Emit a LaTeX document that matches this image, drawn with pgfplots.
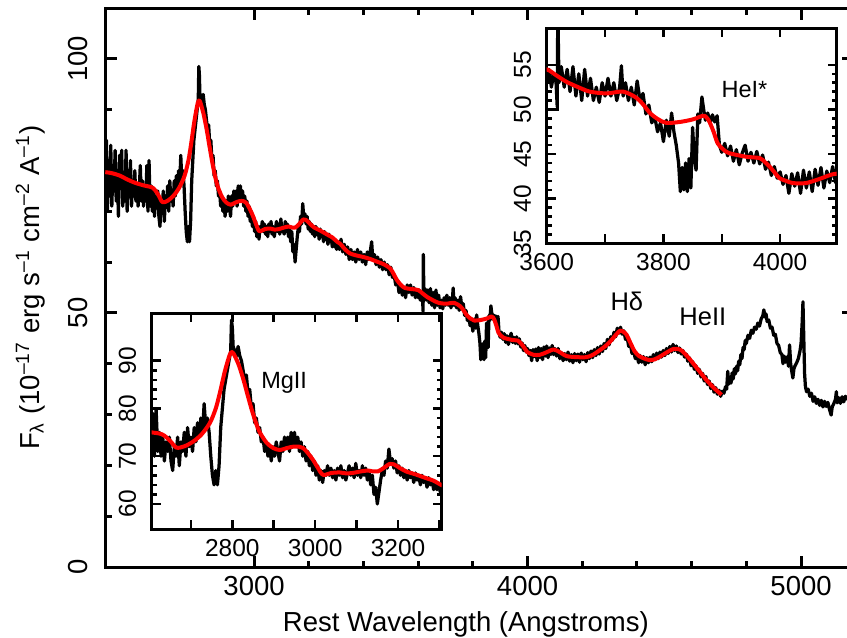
\documentclass[border=0pt]{standalone}
\usepackage{fontspec}
\setmainfont{Liberation Sans}
\usepackage{pgfplots}
\pgfplotsset{compat=1.18}
\usepackage{pgfplotstable}

\pgfplotstableread[row sep=\\]{
x y\\
2450 75\\ 2456 76\\ 2460 84\\ 2464 70\\ 2468 80\\ 2472 73\\ 2476 83\\ 2480 71\\ 2484 79\\ 2488 74\\ 2492 82\\ 2496 72\\ 2500 78\\
2504 69\\ 2508 81\\ 2512 75\\ 2516 82\\ 2520 71\\ 2524 77\\ 2528 72\\ 2532 82\\ 2536 70\\ 2540 76\\ 2544 74\\ 2548 80\\ 2552 71\\
2556 76\\ 2560 73\\ 2564 78\\ 2568 72\\ 2572 75\\ 2576 71\\ 2580 74\\ 2584 79\\ 2588 72\\ 2592 76\\ 2596 71\\ 2600 74\\
2604 72\\ 2608 79\\ 2612 70\\ 2616 80\\ 2620 71\\ 2624 75\\ 2628 70\\ 2632 74\\ 2636 69\\ 2640 73\\ 2644 71\\ 2648 74\\ 2652 69\\
2656 67\\ 2660 72\\ 2664 70\\ 2668 74\\ 2672 68\\ 2676 73\\ 2680 71\\ 2684 75\\ 2688 70\\ 2692 76\\ 2696 72\\ 2700 74\\ 2704 71\\
2708 76\\ 2712 73\\ 2716 77\\ 2720 74\\ 2724 78\\ 2728 75\\ 2732 81\\ 2736 76\\ 2740 78\\ 2744 75\\ 2748 70\\ 2752 66\\ 2756 64\\
2760 67\\ 2764 64\\ 2768 68\\ 2772 76\\ 2776 80\\ 2780 84\\ 2784 86\\ 2788 88\\ 2792 90\\ 2796 92\\ 2798 98.5\\ 2800 97\\ 2802 93\\
2806 92\\ 2810 91\\ 2814 93\\ 2818 91\\ 2822 90\\ 2826 88\\ 2830 86\\ 2834 87\\ 2838 83\\ 2842 84\\ 2846 80\\ 2850 81\\ 2854 77\\
2858 78\\ 2862 75\\ 2866 76\\ 2870 73\\ 2874 74\\ 2878 71\\ 2882 73\\ 2886 70\\ 2890 72\\ 2894 69\\ 2898 72\\ 2902 70\\ 2906 73\\
2910 71\\ 2914 69\\ 2918 73\\ 2922 71\\ 2926 74\\ 2930 72\\ 2934 74\\ 2938 71\\ 2942 75\\ 2946 72\\ 2950 75\\ 2954 72\\ 2958 74\\
2962 71\\ 2966 73\\ 2970 70\\ 2974 72\\ 2978 69\\ 2982 71\\ 2986 68\\ 2990 70\\ 2994 67\\ 2998 69\\ 3002 66\\ 3006 68\\ 3010 65\\
3014 67\\ 3018 64.5\\ 3022 67\\ 3026 66\\ 3030 68\\ 3034 66\\ 3038 67.5\\ 3042 65.5\\ 3046 67\\ 3050 65\\ 3054 67.5\\ 3058 66\\
3062 68\\ 3066 65.5\\ 3070 67\\ 3074 65\\ 3078 66.5\\ 3082 68\\ 3086 66\\ 3090 67.5\\ 3094 65.5\\ 3098 68.5\\ 3102 66\\ 3106 67\\
3110 65.5\\ 3114 68\\ 3118 66\\ 3122 67.5\\ 3126 65\\ 3130 67\\ 3134 64\\ 3138 66\\ 3142 62\\ 3146 63.5\\ 3150 60\\ 3154 62.5\\
3158 65\\ 3162 67\\ 3166 66\\ 3170 69\\ 3174 67.5\\ 3178 71.5\\ 3182 68.5\\ 3186 69.5\\ 3190 67.5\\ 3194 69\\ 3198 66.5\\ 3202 68\\
3206 66\\ 3210 67.5\\ 3214 65.5\\ 3218 67\\ 3222 65\\ 3226 67\\ 3230 65.5\\ 3234 66.5\\ 3238 64.5\\ 3242 66.5\\ 3246 65\\ 3250 66\\
3254 64\\ 3258 66\\ 3262 64.5\\ 3266 65.5\\ 3270 63.5\\ 3274 65.5\\ 3278 64\\ 3282 65\\ 3286 63\\ 3290 64.5\\ 3294 63\\ 3298 64\\
3302 62.5\\ 3306 63.5\\ 3312 62.5\\ 3318 64.5\\ 3324 62\\ 3330 63.5\\ 3336 61.5\\ 3342 63\\ 3348 60.5\\ 3354 62.5\\ 3360 60.5\\
3366 62\\ 3372 60\\ 3378 62.5\\ 3384 60.5\\ 3390 62\\ 3396 60\\ 3402 61.5\\ 3408 59.5\\ 3414 62\\ 3420 60.5\\ 3426 62.5\\ 3430 64\\
3434 60.5\\ 3440 61.5\\ 3446 59.5\\ 3452 61\\ 3458 59\\ 3464 60.5\\ 3470 58.5\\ 3476 60\\ 3482 58.5\\ 3488 59.5\\ 3494 57.5\\
3500 59\\ 3506 57\\ 3512 57.5\\ 3518 55.5\\ 3524 56.5\\ 3530 54\\ 3536 55.5\\ 3542 53.5\\ 3548 55\\ 3554 53\\ 3560 55.5\\ 3566 54\\
3572 55.5\\ 3578 53.5\\ 3584 55\\ 3590 53\\ 3596 54.5\\ 3600 53\\ 3604 54.5\\ 3608 52.5\\ 3612 54\\ 3616 53\\ 3618 50.3\\ 3619 61.5\\
3621 53\\ 3625 54.8\\ 3630 52.5\\ 3635 54.5\\ 3640 52\\ 3645 54.8\\ 3650 51.5\\ 3655 54\\ 3660 51\\ 3665 54.5\\ 3670 51.5\\
3675 53.5\\ 3680 51\\ 3685 52.5\\ 3690 50.8\\ 3695 53\\ 3700 51.5\\ 3705 53.5\\ 3710 51.5\\ 3715 53\\ 3720 51\\ 3725 52.5\\
3728 54.9\\ 3731 51.5\\ 3735 53\\ 3740 51\\ 3745 52.5\\ 3750 50.5\\ 3755 53.2\\ 3760 51\\ 3765 51.8\\ 3770 49.5\\ 3775 50.5\\
3780 48.5\\ 3785 49.2\\ 3790 47.5\\ 3795 48.5\\ 3800 46.4\\ 3805 48.8\\ 3810 47\\ 3814 49.6\\ 3818 47.5\\ 3822 46\\ 3826 44\\
3829 40.8\\ 3832 43.5\\ 3835 41\\ 3838 44\\ 3841 40.8\\ 3844 44.5\\ 3847 41.2\\ 3850 48\\ 3853 44.5\\ 3856 43.2\\ 3859 49.5\\
3862 48.5\\ 3866 51.4\\ 3869 50\\ 3872 48.8\\ 3876 49.6\\ 3880 48.5\\ 3884 49.4\\ 3888 48.6\\ 3892 49.3\\ 3896 46\\ 3900 45.2\\
3905 46.2\\ 3910 44.8\\ 3915 45.9\\ 3920 44.2\\ 3925 45.5\\ 3930 43.8\\ 3935 45.1\\ 3940 46\\ 3945 44.2\\ 3950 45.2\\ 3955 44\\
3960 45.3\\ 3965 43.9\\ 3970 44.9\\ 3975 43.3\\ 3980 44.1\\ 3985 42.6\\ 3990 43.6\\ 3995 42.3\\ 4000 43\\ 4005 41.6\\ 4010 42.6\\
4015 40.6\\ 4020 42.8\\ 4025 41.4\\ 4030 42.9\\ 4035 40.6\\ 4040 43.2\\ 4045 41.2\\ 4050 43\\ 4055 40.8\\ 4060 43.3\\ 4065 41.5\\
4070 43.5\\ 4075 41.2\\ 4080 43.1\\ 4085 41.8\\ 4090 43.6\\ 4095 41.8\\ 4100 43\\ 4106 41.5\\ 4112 43\\ 4118 41\\ 4124 42.2\\
4130 40.6\\ 4136 42\\ 4142 40.8\\ 4148 42.3\\ 4154 40.5\\ 4160 41.8\\ 4166 40.2\\ 4172 42\\ 4178 40.6\\ 4184 41.9\\ 4190 40.3\\
4196 42.1\\ 4202 40.8\\ 4208 41.8\\ 4214 40.4\\ 4220 42.2\\ 4226 41\\ 4232 42.5\\ 4238 41.2\\ 4244 42.8\\ 4250 41.6\\ 4256 43.2\\
4262 41.9\\ 4268 43.5\\ 4274 42.4\\ 4280 44\\ 4286 43\\ 4292 44.8\\ 4298 43.7\\ 4304 45.3\\ 4310 44.6\\ 4316 46.2\\ 4322 45.3\\
4328 47\\ 4334 46\\ 4340 47.2\\ 4346 45.8\\ 4352 46.5\\ 4358 44.8\\ 4364 45.2\\ 4370 43.4\\ 4376 43.8\\ 4382 42\\ 4388 42.5\\
4394 41\\ 4400 41.8\\ 4406 40.2\\ 4412 41.6\\ 4418 40.3\\ 4424 41.4\\ 4430 39.8\\ 4436 41.2\\ 4442 40.2\\ 4448 41.3\\ 4454 40.4\\
4460 41.8\\ 4466 40.8\\ 4472 42.1\\ 4478 41\\ 4484 42.3\\ 4490 41.3\\ 4496 42.6\\ 4502 41.6\\ 4508 43\\ 4514 42\\ 4520 43.4\\
4526 42.3\\ 4532 43.8\\ 4538 42.6\\ 4544 43.5\\ 4550 42.2\\ 4556 43.1\\ 4562 41.9\\ 4568 42.6\\ 4574 41.3\\ 4580 41.9\\ 4586 40.5\\
4592 41.2\\ 4598 39.6\\ 4604 40.4\\ 4610 38.9\\ 4616 39.6\\ 4622 38.1\\ 4628 38.9\\ 4634 37.4\\ 4640 38.1\\ 4646 36.6\\ 4652 37.5\\
4658 35.9\\ 4664 36.6\\ 4670 35.1\\ 4676 35.9\\ 4682 34.4\\ 4688 35.3\\ 4694 34\\ 4700 34.8\\ 4706 33.6\\ 4712 34.6\\ 4718 34.2\\
4724 35.5\\ 4728 35\\ 4732 38.5\\ 4736 36\\ 4740 37.2\\ 4744 36.2\\ 4748 38.2\\ 4752 37\\ 4756 39\\ 4760 38\\ 4764 39.5\\ 4768 38.6\\
4772 40.5\\ 4776 39.8\\ 4780 41.8\\ 4784 41\\ 4788 43.2\\ 4792 42.8\\ 4796 44.6\\ 4800 44\\ 4806 45.6\\ 4812 45\\ 4818 46.6\\
4824 46\\ 4830 47.2\\ 4836 46.8\\ 4842 48\\ 4848 47.4\\ 4854 48.8\\ 4860 49.4\\ 4864 50.6\\ 4868 49.2\\ 4872 49.8\\ 4876 48.3\\
4882 48.6\\ 4888 47\\ 4894 47.2\\ 4900 45.6\\ 4906 45.8\\ 4912 44\\ 4918 43.6\\ 4924 42.2\\ 4930 41.8\\ 4934 40\\ 4938 41.5\\
4944 40.3\\ 4950 41.4\\ 4954 39.5\\ 4958 43.7\\ 4962 40\\ 4966 38.5\\ 4970 37.2\\ 4974 39\\ 4978 39.6\\ 4984 40.2\\ 4990 41\\
4996 42.5\\ 5000 44\\ 5004 48\\ 5007 52.2\\ 5010 45\\ 5013 38\\ 5016 35.5\\ 5020 34.5\\ 5026 35\\ 5032 33.6\\ 5038 34.2\\ 5044 32.6\\
5050 33.5\\ 5056 32.2\\ 5062 33\\ 5068 31.8\\ 5074 32.8\\ 5080 31.5\\ 5086 32.6\\ 5092 31.6\\ 5098 32.4\\ 5104 31\\ 5110 29.9\\
5114 31.5\\ 5120 32.2\\ 5126 33\\ 5129 34.5\\ 5132 32.3\\ 5138 33.3\\ 5144 32.2\\ 5150 33.5\\ 5156 32.5\\ 5162 33.6\\ 5168 33\\
5175 33.2\\ 5182 32.8\\ 5190 33.4\\ 5196 33\\
}\spec

\pgfplotstableread[row sep=\\]{
x y\\
2456 77.7\\ 2480 77.5\\ 2510 77.0\\ 2535 76.3\\ 2565 75.6\\ 2596 75.1\\ 2630 74.6\\ 2650 73.2\\ 2665 71.8\\ 2685 72.1\\
2706 73.1\\ 2726 74.6\\ 2746 77\\ 2760 80\\ 2770 83.3\\ 2782 87.8\\ 2794 91.3\\ 2800 91.8\\ 2806 91\\ 2816 89\\ 2827 86\\
2837 82.8\\ 2847 79.7\\ 2857 77\\ 2867 74.9\\ 2883 72.8\\ 2899 71.7\\ 2915 71.3\\ 2931 71.7\\ 2947 72\\ 2961 72\\ 2971 71.7\\
2983 70.6\\ 2995 69.2\\ 3007 67.5\\ 3019 66.1\\ 3040 66.5\\ 3059 66.6\\ 3075 66.4\\ 3091 66.5\\ 3109 66.8\\ 3127 67\\ 3140 66.8\\
3151 66.8\\ 3165 67.5\\ 3180 68.4\\ 3190 68.3\\ 3205 67.5\\ 3220 66.8\\ 3242 66.2\\ 3268 65.4\\ 3285 64.9\\ 3304 64\\ 3315 63.6\\
3333 62.5\\ 3351 61.7\\ 3375 61.3\\ 3400 61\\ 3425 60.6\\ 3449 60.1\\ 3473 59.6\\ 3497 58.8\\ 3510 57.7\\ 3522 56.5\\ 3537 55.5\\
3552 54.9\\ 3575 54.7\\ 3600 54.5\\ 3617 53.8\\ 3634 53.1\\ 3654 52.5\\ 3674 52.0\\ 3703 51.8\\ 3731 52.0\\ 3754 51.3\\ 3766 50.5\\
3777 49.6\\ 3791 48.9\\ 3805 48.5\\ 3828 48.6\\ 3851 48.9\\ 3868 49.3\\ 3874 49.1\\ 3879 48.6\\ 3886 47.5\\ 3893 46.2\\ 3903 45.5\\
3913 45.1\\ 3942 44.7\\ 3965 44.55\\ 3974 44.1\\ 3982 43.6\\ 3991 42.9\\ 3999 42.3\\ 4010 42.0\\ 4022 41.75\\ 4044 41.75\\
4067 42.2\\ 4096 42.8\\ 4120 42.2\\ 4143 41.5\\ 4179 41.3\\ 4216 41.3\\ 4240 41.8\\ 4265 42.7\\ 4283 43.4\\ 4301 44.3\\ 4320 45.5\\
4338 46.5\\ 4350 46.3\\ 4362 45.7\\ 4377 44\\ 4392 42.4\\ 4408 41.5\\ 4423 41.1\\ 4447 40.7\\ 4466 40.9\\ 4484 41.4\\ 4508 42.2\\
4533 42.9\\ 4548 42.9\\ 4563 42.6\\ 4585 41.4\\ 4605 40.1\\ 4630 38.4\\ 4654 36.8\\ 4680 35.3\\ 4709 33.9\\
}\fit

\pgfplotsset{
  spec/.style={black, line width=1.3pt, line join=round, no markers},
  fitline/.style={red, line width=1.6pt, line join=round, no markers, smooth},
  inset/.style={
    scale only axis, anchor=south west, width=116pt,
    axis background/.style={fill=white},
    tick align=inside, major tick length=3.6pt, minor tick length=2pt,
    every tick/.style={line width=1pt, black},
    axis line style={line width=1.2pt},
    tick label style={font=\fontsize{9.8}{12}\selectfont},
    /pgf/number format/assume math mode=true,
    /pgf/number format/1000 sep={},
    xticklabel style={anchor=north, inner sep=0pt, yshift=-4pt},
    yticklabel style={xshift=-6pt, rotate=90, anchor=south, inner sep=0pt},
    clip=true,
  },
}

\begin{document}
\begin{tikzpicture}
\useasboundingbox (0,0) rectangle (338.8pt,254.8pt);
\begin{axis}[
  scale only axis, anchor=south west, at={(42pt,28pt)},
  width=299.2pt, height=223.6pt,
  xmin=2455, xmax=5190, ymin=0, ymax=110,
  xtick={3000,4000,5000}, minor x tick num=4,
  ytick={0,50,100}, minor y tick num=4,
  tick align=inside, major tick length=4.6pt, minor tick length=2.6pt,
  every tick/.style={line width=1.2pt, black},
  axis line style={line width=1.2pt},
  tick label style={font=\fontsize{11}{13}\selectfont},
  /pgf/number format/assume math mode=true,
  /pgf/number format/1000 sep={},
  xticklabel style={anchor=north, inner sep=0pt, yshift=-3.6pt},
  yticklabel style={xshift=-6.6pt, rotate=90, anchor=south, inner sep=0pt},
  xlabel={Rest Wavelength (Angstroms)},
  xlabel style={at={(axis description cs:0.4824,-0.1145)}, anchor=base, inner sep=0pt, font=\fontsize{11}{13}\selectfont},
  ylabel={F\textsubscript{λ} (10\textsuperscript{–17} erg s\textsuperscript{–1} cm\textsuperscript{–2} A\textsuperscript{–1})},
  ylabel style={at={(axis description cs:-0.0882,0.5)}, anchor=base, inner sep=0pt, font=\fontsize{11}{13}\selectfont},
]
\addplot[spec] table[x=x,y=y] {\spec};
\addplot[fitline] table[x=x,y=y] {\fit};
\node[font=\fontsize{10.2}{12}\selectfont] at (axis cs:4363,52.2) {Hδ};
\node[font=\fontsize{10.2}{12}\selectfont] at (axis cs:4641,49.2) {HeII};
\end{axis}

\begin{axis}[inset, at={(60.68pt,43.2pt)}, height=86.4pt,
  xmin=2605.4, xmax=3305.5, ymin=54.75, ymax=100,
  xtick={2700,2800,...,3300}, xticklabels={,2800,,3000,,3200,},
  ytick={60,70,80,90}, minor y tick num=4,
]
\addplot[spec] table[x=x,y=y] {\spec};
\addplot[fitline] table[x=x,y=y] {\fit};
\node[font=\fontsize{9.4}{11}\selectfont] at (axis cs:2925,85.4) {MgII};
\end{axis}

\begin{axis}[inset, at={(218.68pt,157.48pt)}, height=86pt,
  xmin=3600, xmax=4097, ymin=35, ymax=59.1,
  xtick={3600,3700,...,4000}, xticklabels={3600,,3800,,4000},
  ytick={35,40,45,50,55}, minor y tick num=4,
]
\addplot[spec] table[x=x,y=y] {\spec};
\addplot[black, line width=1.1pt, no markers] coordinates {(3598,50) (3619,50) (3619,60)};
\addplot[fitline] table[x=x,y=y] {\fit};
\node[font=\fontsize{9.4}{11}\selectfont] at (axis cs:3939,52.2) {HeI*};
\end{axis}
\end{tikzpicture}
\end{document}
